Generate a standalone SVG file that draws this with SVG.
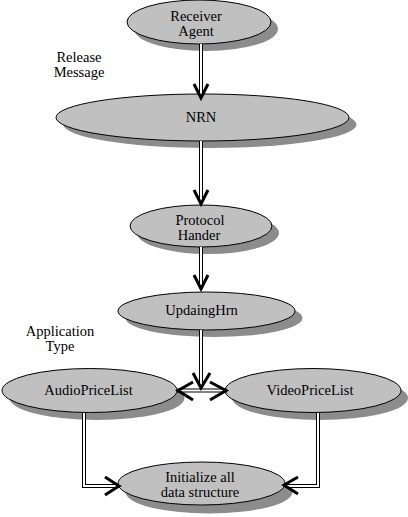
<svg xmlns="http://www.w3.org/2000/svg" width="408" height="517" viewBox="0 0 408 517">
<style>
.shadow{fill:#8c8c8c;stroke:none}
.node{fill:#c0c0c0;stroke:#000;stroke-width:1}
text{font-family:"Liberation Serif","DejaVu Serif",serif;font-size:14.5px;fill:#000;text-anchor:middle}
.outer{fill:none;stroke:#000;stroke-width:4;stroke-linejoin:miter}
.inner{fill:none;stroke:#fff;stroke-width:2;stroke-linejoin:miter}
.head{fill:none;stroke:#000;stroke-width:3;stroke-linejoin:miter;stroke-linecap:butt}
</style>
<rect width="408" height="517" fill="#fff"/>
<g id="receiver-agent">
<ellipse class="shadow" cx="206" cy="29" rx="72" ry="22"/>
<ellipse class="node" cx="199" cy="22" rx="72" ry="22"/>
<text x="196" y="21">Receiver</text>
<text x="196" y="36">Agent</text>
</g>
<g id="nrn">
<ellipse class="shadow" cx="210" cy="124.5" rx="146.5" ry="23.5"/>
<ellipse class="node" cx="202.5" cy="117.5" rx="146.5" ry="23.5"/>
<text x="201" y="122">NRN</text>
</g>
<g id="protocol-handler">
<ellipse class="shadow" cx="208" cy="233" rx="71" ry="21"/>
<ellipse class="node" cx="201" cy="226" rx="71" ry="21"/>
<text x="200" y="225">Protocol</text>
<text x="199" y="240">Hander</text>
</g>
<g id="updaing-hrn">
<ellipse class="shadow" cx="214" cy="318" rx="88.5" ry="19"/>
<ellipse class="node" cx="206.5" cy="311" rx="88.5" ry="19"/>
<text x="201.5" y="315">UpdaingHrn</text>
</g>
<g id="audio-price-list">
<ellipse class="shadow" cx="97" cy="398" rx="87.5" ry="22"/>
<ellipse class="node" cx="89.5" cy="390.5" rx="87.5" ry="22"/>
<text x="88.5" y="395">AudioPriceList</text>
</g>
<g id="video-price-list">
<ellipse class="shadow" cx="320" cy="398" rx="88" ry="22"/>
<ellipse class="node" cx="313" cy="390.5" rx="88" ry="22"/>
<text x="310" y="395">VideoPriceList</text>
</g>
<g id="initialize">
<ellipse class="shadow" cx="209" cy="492" rx="83.5" ry="21.5"/>
<ellipse class="node" cx="201.5" cy="483.5" rx="83.5" ry="21.5"/>
<text x="200" y="482">Initialize all</text>
<text x="200" y="497">data structure</text>
</g>
<g id="labels">
<text x="79" y="62">Release</text>
<text x="79" y="77">Message</text>
<text x="60" y="336">Application</text>
<text x="60" y="351">Type</text>
</g>
<g id="connectors">
<path class="outer" d="M201 44V97M201 141V203M201 247V288M201 330V387M177 390.5H227M84 413V486H118M318 413V486H285"/>
<path class="inner" d="M201 44V97M201 141V203M201 247V288M201 330V387M177 390.5H227M84 413V486H118M318 413V486H285"/>
<path class="head" d="M194 84L201 98L208 84M194 190L201 204L208 190M194 275L201 289L208 275M193 373L201 388L210 373M193 382L178 390.5L193 400M210 382L226 390.5L210 400M105 477L119 486L105 495M298 477L284 485L298 494"/>
</g>
</svg>
